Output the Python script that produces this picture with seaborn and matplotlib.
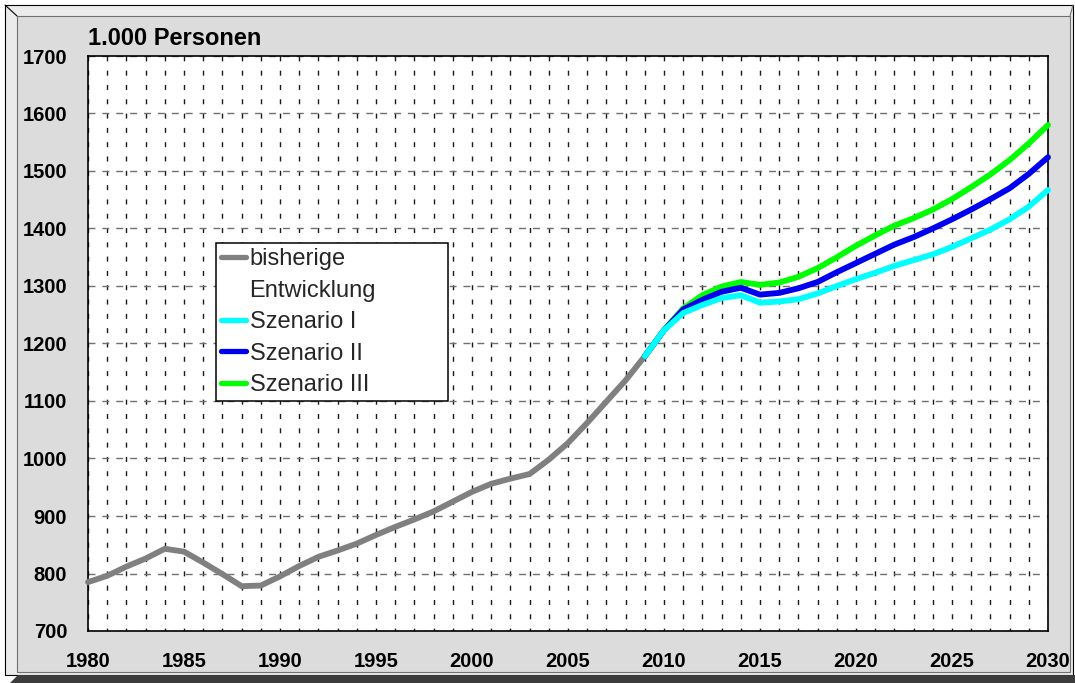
import numpy as np
import pandas as pd
import matplotlib
matplotlib.use("Agg")
import matplotlib.pyplot as plt
import seaborn as sns
from matplotlib.lines import Line2D
from matplotlib.patches import Rectangle, Polygon

# ---------------- data ----------------
hist_years = list(range(1980, 2010))
hist_values = [785, 796, 812, 826, 843, 838, 819, 799, 778, 779,
               795, 813, 829, 840, 852, 867, 881, 894, 908, 925,
               942, 956, 965, 973, 998, 1027, 1062, 1099, 1136, 1178]

scen_years = list(range(2009, 2031))
scen1 = [1178, 1223, 1253, 1267, 1279, 1284, 1271, 1273, 1277, 1287, 1300,
         1312, 1323, 1335, 1345, 1355, 1368, 1383, 1398, 1416, 1438, 1467]
scen2 = [1178, 1223, 1259, 1276, 1290, 1297, 1285, 1288, 1296, 1307, 1324,
         1340, 1356, 1372, 1385, 1400, 1416, 1433, 1451, 1470, 1495, 1524]
scen3 = [1178, 1223, 1261, 1284, 1299, 1307, 1302, 1306, 1316, 1331, 1350,
         1370, 1388, 1405, 1418, 1433, 1451, 1472, 1494, 1519, 1548, 1580]

x_ticks = [1980, 1985, 1990, 1995, 2000, 2005, 2010, 2015, 2020, 2025, 2030]
y_ticks = [700, 800, 900, 1000, 1100, 1200, 1300, 1400, 1500, 1600, 1700]
title = "1.000 Personen"
legend_labels = ["bisherige", "Entwicklung", "Szenario I", "Szenario II", "Szenario III"]

c_hist = "#808080"
c_s1 = "#00ffff"
c_s2 = "#0000f0"
c_s3 = "#00ff00"

# ---------------- style ----------------
sns.set_theme(style="white")
plt.rcParams["font.family"] = ["Liberation Sans", "DejaVu Sans"]

W, H = 1075, 683
fig = plt.figure(figsize=(W / 100, H / 100), dpi=100)
fig.patch.set_facecolor("white")


def fx(p):
    return p / W


def fy(p):
    return 1 - p / H


def rect(x0, y0, x1, y1, **kw):
    r = Rectangle((fx(x0), fy(y1)), fx(x1) - fx(x0), fy(y0) - fy(y1),
                  transform=fig.transFigure, **kw)
    fig.add_artist(r)


def poly(pts, **kw):
    p = Polygon([(fx(a), fy(b)) for a, b in pts], closed=True,
                transform=fig.transFigure, **kw)
    fig.add_artist(p)


def seg(x0, y0, x1, y1, **kw):
    l = Line2D([fx(x0), fx(x1)], [fy(y0), fy(y1)], transform=fig.transFigure, **kw)
    fig.add_artist(l)


# 3D frame
rect(5, 5, 1073, 675, facecolor="#ebebeb", edgecolor="black", lw=0.8, zorder=-10)
rect(17, 16, 1070, 672, facecolor="#dcdcdc", edgecolor="#707070", lw=0.8, zorder=-9)
seg(5, 5, 17, 16, color="black", lw=0.8, zorder=-8)
seg(1073, 5, 1070, 16, color="#707070", lw=0.8, zorder=-8)
poly([(10, 683), (18, 675), (1075, 675), (1075, 683)], facecolor="#3c3c3c",
     edgecolor="none", zorder=-7)

# axes
ax = fig.add_axes([fx(88), fy(631), fx(1048) - fx(88), fy(56) - fy(631)])
ax.set_facecolor("white")

lw_line = 4.2
sns.lineplot(x=hist_years, y=hist_values, ax=ax, color=c_hist, lw=lw_line,
             solid_capstyle="round", clip_on=False, zorder=3, legend=False)
sns.lineplot(x=scen_years, y=scen3, ax=ax, color=c_s3, lw=lw_line,
             solid_capstyle="round", clip_on=False, zorder=4, legend=False)
sns.lineplot(x=scen_years, y=scen2, ax=ax, color=c_s2, lw=lw_line,
             solid_capstyle="round", clip_on=False, zorder=5, legend=False)
sns.lineplot(x=scen_years, y=scen1, ax=ax, color=c_s1, lw=lw_line,
             solid_capstyle="round", clip_on=False, zorder=6, legend=False)

ax.set_xlim(1980, 2030)
ax.set_ylim(700, 1700)
ax.set_xticks(x_ticks)
ax.set_xticks(list(range(1980, 2031)), minor=True)
ax.set_yticks(y_ticks)
ax.set_xlabel("")
ax.set_ylabel("")
ax.set_axisbelow(True)
ax.grid(False)
ax.xaxis.grid(True, which="both", color="#1a1a1a", lw=1.0, linestyle=(1.5, (3.6, 6.7)))
ax.yaxis.grid(True, which="major", color="#707070", lw=1.0, linestyle=(0, (5.0, 5.0)))

ax.tick_params(which="both", length=0)
ax.tick_params(axis="y", pad=15, labelsize=14.5, labelcolor="black")
ax.tick_params(axis="x", pad=15, labelsize=14.5, labelcolor="black")
for lab in ax.get_xticklabels() + ax.get_yticklabels():
    lab.set_fontweight("bold")

for sp in ax.spines.values():
    sp.set_visible(True)
    sp.set_color("black")
    sp.set_linewidth(1.2)

fig.text(fx(88), fy(45), title, ha="left", va="baseline", fontsize=17,
         fontweight="bold", color="black")

# legend
handles = [
    Line2D([0], [0], color=c_hist, lw=3.8, solid_capstyle="round"),
    Line2D([0], [0], linestyle="none"),
    Line2D([0], [0], color=c_s1, lw=3.8, solid_capstyle="round"),
    Line2D([0], [0], color=c_s2, lw=3.8, solid_capstyle="round"),
    Line2D([0], [0], color=c_s3, lw=3.8, solid_capstyle="round"),
]


def ax_x(p):
    return (p - 88) / (1048 - 88)


def ax_y(p):
    return (631 - p) / (631 - 56)


leg = ax.legend(handles, legend_labels, loc="upper left",
                bbox_to_anchor=(ax_x(216), ax_y(403), ax_x(448) - ax_x(216), ax_y(243) - ax_y(403)),
                mode="expand", borderaxespad=0, frameon=True, fancybox=False,
                edgecolor="black", facecolor="white", framealpha=1, fontsize=17,
                handlelength=1.05, handletextpad=0.15, borderpad=0.22, labelspacing=0.4)
leg.get_frame().set_linewidth(1.1)
leg.set_zorder(10)

fig.savefig("out.png", dpi=100, facecolor=fig.get_facecolor())
